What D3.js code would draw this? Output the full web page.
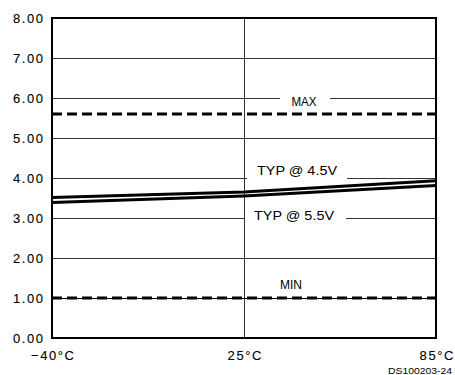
<!DOCTYPE html>
<html>
<head>
<meta charset="utf-8">
<script src="https://cdn.jsdelivr.net/npm/d3@7"></script>
<style>
  html, body { margin: 0; padding: 0; background: #fff; }
  svg { display: block; }
  text { font-family: "Liberation Sans", Arial, sans-serif; fill: #000; }
</style>
</head>
<body>
<svg id="chart" width="455" height="375"></svg>
<script>
// Temperature points along the x axis
const temps = ["−40°C", "25°C", "85°C"];
// Typical current (mA) at each temperature
const typ45 = [3.51, 3.65, 3.93];
const typ55 = [3.39, 3.55, 3.81];
// Specification limits
const maxLimit = [5.6, 5.6, 5.6];
const minLimit = [1.0, 1.0, 1.0];
// Y axis ticks
const yTicks = [0, 1, 2, 3, 4, 5, 6, 7, 8];

const svg = d3.select("#chart");
const plotL = 52, plotR = 436, plotT = 18, plotB = 338;

const x = d3.scalePoint().domain(temps).range([plotL, plotR]);
const y = d3.scaleLinear().domain([0, 8]).range([plotB, plotT]);

// Horizontal gridlines and y tick labels
const yAxis = svg.append("g")
  .attr("transform", `translate(${plotL},0)`)
  .call(d3.axisLeft(y).tickValues(yTicks).tickFormat(d3.format(".2f"))
    .tickSize(-(plotR - plotL)).tickPadding(9));
yAxis.select(".domain").remove();
yAxis.selectAll(".tick line")
  .attr("stroke", "#333").attr("stroke-width", 1).attr("shape-rendering", "crispEdges");
yAxis.selectAll(".tick text")
  .attr("font-size", 13).attr("fill", "#000")
  .attr("stroke", "#000").attr("stroke-width", 0.12)
  .attr("textLength", 30).attr("lengthAdjust", "spacing")
  .attr("dy", "0.36em");

// Vertical gridline and temperature labels
const xAxis = svg.append("g")
  .attr("transform", `translate(0,${plotB})`)
  .call(d3.axisBottom(x).tickSize(-(plotB - plotT)).tickPadding(13));
xAxis.select(".domain").remove();
xAxis.selectAll(".tick line")
  .attr("stroke", "#333").attr("stroke-width", 1).attr("shape-rendering", "crispEdges");
xAxis.selectAll(".tick text")
  .attr("font-size", 13).attr("fill", "#000")
  .attr("stroke", "#000").attr("stroke-width", 0.12)
  .attr("textLength", (d, i) => i === 0 ? 43 : 34)
  .attr("lengthAdjust", "spacing");
xAxis.selectAll(".tick text").filter(d => d === "85°C").attr("text-anchor", "end").attr("dx", 17);

// Label boxes that break the gridlines
const labels = [
  { text: "MAX", cx: 304, baseY: 106, w: 25, gap: [280, 330], gy: 6 },
  { text: "TYP @ 4.5V", cx: 297, baseY: 175, w: 80, gap: [247, 347], gy: 4 },
  { text: "TYP @ 5.5V", cx: 294, baseY: 219.5, w: 80, gap: [245, 346], gy: 3 },
  { text: "MIN", cx: 291, baseY: 289, w: 22, gap: null, gy: null }
];
labels.forEach(l => {
  if (l.gap) {
    svg.append("rect")
      .attr("x", l.gap[0]).attr("y", y(l.gy) - 2)
      .attr("width", l.gap[1] - l.gap[0]).attr("height", 4)
      .attr("fill", "#fff");
  }
});

// Limit lines
const line = d3.line().x((d, i) => x(temps[i])).y(d => y(d));
[maxLimit, minLimit].forEach(s => {
  svg.append("path").datum(s)
    .attr("d", line)
    .attr("fill", "none").attr("stroke", "#000")
    .attr("stroke-width", 3).attr("stroke-dasharray", "10,5");
});
// Thin centre line through the MIN dashes
svg.append("line")
  .attr("x1", plotL).attr("x2", plotR)
  .attr("y1", y(minLimit[0])).attr("y2", y(minLimit[0]))
  .attr("stroke", "#000").attr("stroke-width", 1).attr("shape-rendering", "crispEdges");

// Typical curves
[typ45, typ55].forEach(s => {
  svg.append("path").datum(s)
    .attr("d", line)
    .attr("fill", "none").attr("stroke", "#000")
    .attr("stroke-width", 3);
});

labels.forEach(l => {
  svg.append("text")
    .attr("x", l.cx).attr("y", l.baseY)
    .attr("text-anchor", "middle")
    .attr("font-size", 12.5)
    .attr("textLength", l.w).attr("lengthAdjust", "spacingAndGlyphs")
    .text(l.text);
});

// Plot frame
svg.append("rect")
  .attr("x", plotL).attr("y", plotT)
  .attr("width", plotR - plotL).attr("height", plotB - plotT)
  .attr("fill", "none").attr("stroke", "#000").attr("stroke-width", 2);

// Drawing number
svg.append("text")
  .attr("x", 452).attr("y", 373.5)
  .attr("text-anchor", "end")
  .attr("font-size", 9.5)
  .attr("textLength", 64).attr("lengthAdjust", "spacingAndGlyphs")
  .text("DS100203-24");
</script>
</body>
</html>
